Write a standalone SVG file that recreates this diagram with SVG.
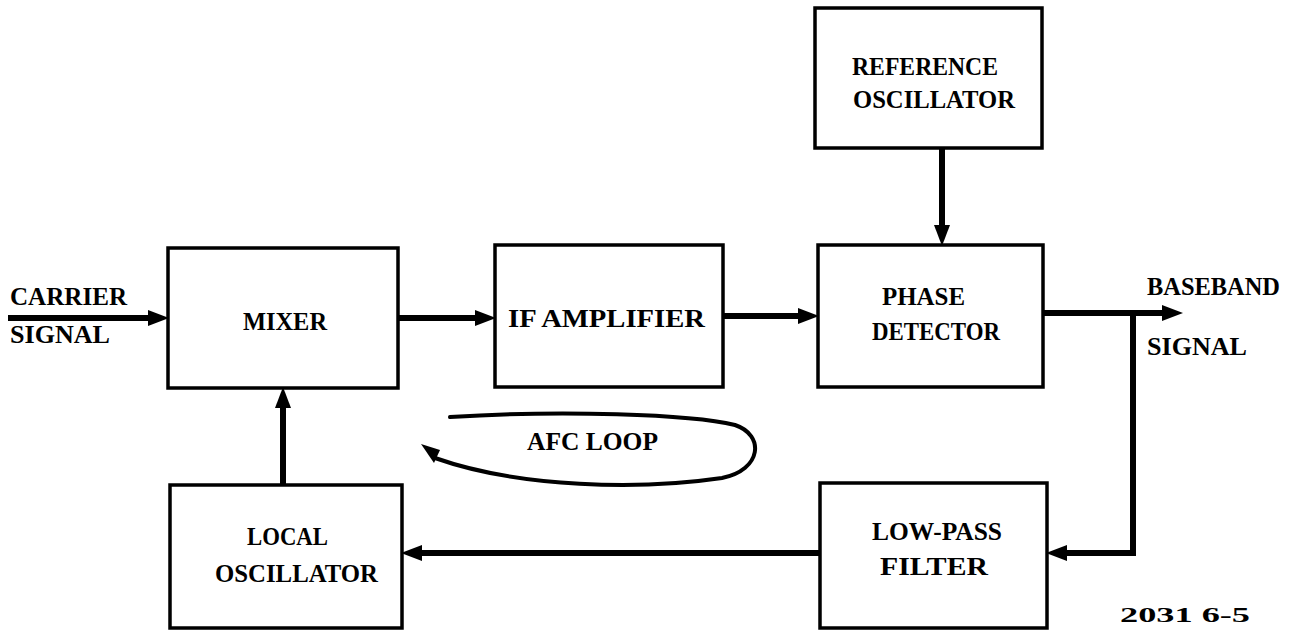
<svg xmlns="http://www.w3.org/2000/svg" width="1292" height="631" viewBox="0 0 1292 631">
<style>
.box{fill:#fff;stroke:#000;stroke-width:3.5}
.t{font-family:"Liberation Serif","DejaVu Serif",serif;font-weight:bold;font-size:25px;fill:#000}
.c{fill:none;stroke:#000;stroke-width:6}
.thin{fill:none;stroke:#000;stroke-width:4;stroke-linecap:round}
</style>
<defs>
<marker id="ah" markerUnits="userSpaceOnUse" markerWidth="22" markerHeight="18" refX="8" refY="8" orient="auto" viewBox="0 0 22 16">
<path d="M0,0 L21,8 L0,16 z" fill="#000"/>
</marker>
</defs>
<rect width="1292" height="631" fill="#fff"/>
<g id="connectors">
<path class="c" d="M8,318 H156" marker-end="url(#ah)"/>
<path class="c" d="M398,318 H483" marker-end="url(#ah)"/>
<path class="c" d="M723,316 H806" marker-end="url(#ah)"/>
<path class="c" d="M942,148 V233" marker-end="url(#ah)"/>
<path class="c" d="M1043,313 H1170" marker-end="url(#ah)"/>
<path class="c" d="M1133,313 V553 H1059" marker-end="url(#ah)"/>
<path class="c" d="M820,553 H414" marker-end="url(#ah)"/>
<path class="c" d="M283,485 V400" marker-end="url(#ah)"/>
<path class="thin" d="M450,417 C560,410 690,414 735,425 C765,435 762,470 722,478 C640,490 520,488 435,458"/>
<path d="M421,444 L440,450 L434,463 z" fill="#000"/>
</g>
<g id="mixer"><rect class="box" x="168" y="248" width="230" height="140"/><text class="t" x="243" y="330" textLength="84" lengthAdjust="spacingAndGlyphs">MIXER</text></g>
<g id="if-amplifier"><rect class="box" x="495" y="245" width="228" height="142"/><text class="t" x="508" y="327" textLength="197" lengthAdjust="spacingAndGlyphs">IF AMPLIFIER</text></g>
<g id="reference-oscillator"><rect class="box" x="815" y="8" width="227" height="140"/><text class="t" x="852" y="75" textLength="146" lengthAdjust="spacingAndGlyphs">REFERENCE</text><text class="t" x="853" y="108" textLength="162" lengthAdjust="spacingAndGlyphs">OSCILLATOR</text></g>
<g id="phase-detector"><rect class="box" x="818" y="245" width="225" height="142"/><text class="t" x="882" y="305" textLength="83" lengthAdjust="spacingAndGlyphs">PHASE</text><text class="t" x="872" y="340" textLength="128" lengthAdjust="spacingAndGlyphs">DETECTOR</text></g>
<g id="low-pass-filter"><rect class="box" x="820" y="483" width="227" height="145"/><text class="t" x="872" y="540" textLength="130" lengthAdjust="spacingAndGlyphs">LOW-PASS</text><text class="t" x="880" y="575" textLength="108" lengthAdjust="spacingAndGlyphs">FILTER</text></g>
<g id="local-oscillator"><rect class="box" x="170" y="485" width="232" height="143"/><text class="t" x="247" y="545" textLength="81" lengthAdjust="spacingAndGlyphs">LOCAL</text><text class="t" x="215" y="582" textLength="163" lengthAdjust="spacingAndGlyphs">OSCILLATOR</text></g>
<g id="labels">
<text class="t" x="10" y="305" textLength="117" lengthAdjust="spacingAndGlyphs">CARRIER</text>
<text class="t" x="10" y="343" textLength="100" lengthAdjust="spacingAndGlyphs">SIGNAL</text>
<text class="t" x="1147" y="295" textLength="133" lengthAdjust="spacingAndGlyphs">BASEBAND</text>
<text class="t" x="1147" y="355" textLength="100" lengthAdjust="spacingAndGlyphs">SIGNAL</text>
<text class="t" x="527" y="450" textLength="131" lengthAdjust="spacingAndGlyphs">AFC LOOP</text>
<text class="t" x="1120" y="622" style="font-size:22px" textLength="130" lengthAdjust="spacingAndGlyphs">2031 6-5</text>
</g>
</svg>
